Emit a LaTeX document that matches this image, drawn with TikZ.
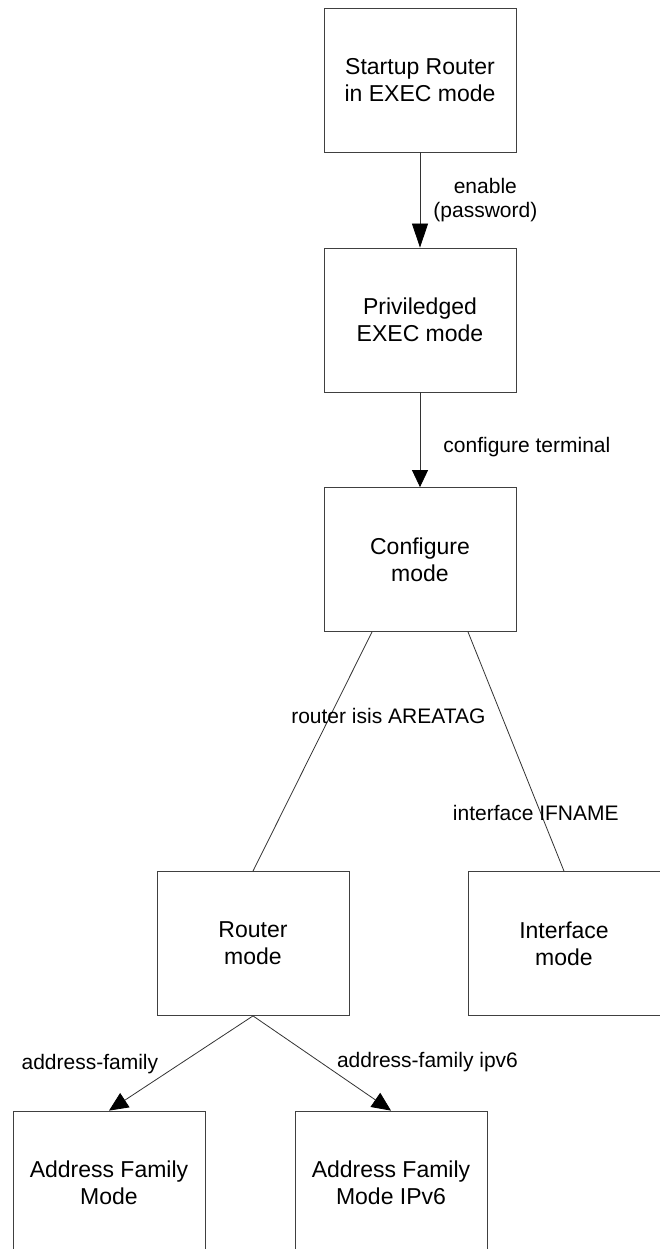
\documentclass[tikz,border=0pt]{standalone}
\usepackage{fontspec}
\setmainfont{Liberation Sans}
\usetikzlibrary{positioning, arrows.meta}

\begin{document}
\begin{tikzpicture}[x=1pt,y=1pt,node distance=240pt,on grid,
    mode/.style={draw=black!75, line width=0.8pt, minimum width=192pt,
      minimum height=144pt, inner sep=0pt, align=center,
      font=\fontsize{23}{27}\selectfont},
    cmd/.style={inner sep=0pt, align=center, font=\fontsize{21}{24}\selectfont},
    >={Triangle[length=19pt,width=17pt,color=black]}]
    \useasboundingbox (0,0) rectangle (659,-1249);
    \node[mode] (start) at (420,-80) {Startup Router\\in EXEC mode};
    \node[mode] (priv) [below=of start] {Priviledged\\EXEC mode};
    \node[mode] (conf) [below=239.5pt of priv] {Configure\\mode};
    \node[mode] (router) [below left=384pt and 167pt of conf] {Router\\mode};
    \node[mode] (iface) [below right=384pt and 144pt of conf] {Interface\\mode};
    \node[mode] (af) [below left=239.5pt and 144pt of router] {Address Family\\Mode};
    \node[mode] (afv6) [below right=239.5pt and 138pt of router] {Address Family\\Mode IPv6};
      \path[->, every edge/.style={draw=black!80, line width=0.8pt}]
      (start) edge[-{Triangle[length=24pt,width=16pt,color=black]}]
                 node[cmd, anchor=west, xshift=13pt] {enable\\(password)} (priv)
      (priv) edge[-{Triangle[length=17pt,width=16pt,color=black]}]
                 node[cmd, anchor=west, pos=0.58, xshift=23pt] {configure terminal} (conf)
      ([xshift=-48pt]conf.south) edge[-]
                 node[cmd, pos=0.35, xshift=58pt] {router isis AREATAG} (router.north)
      ([xshift=48pt]conf.south) edge[-]
                 node[cmd, pos=0.758, xshift=-5pt] {interface IFNAME} (iface.north)
      (router.south) edge node[cmd, anchor=east, pos=0.51, xshift=-21pt] {address-family} (af.north)
      (router.south) edge node[cmd, anchor=west, pos=0.49, xshift=16pt] {address-family ipv6} (afv6.north);
  \end{tikzpicture}
\end{document}
